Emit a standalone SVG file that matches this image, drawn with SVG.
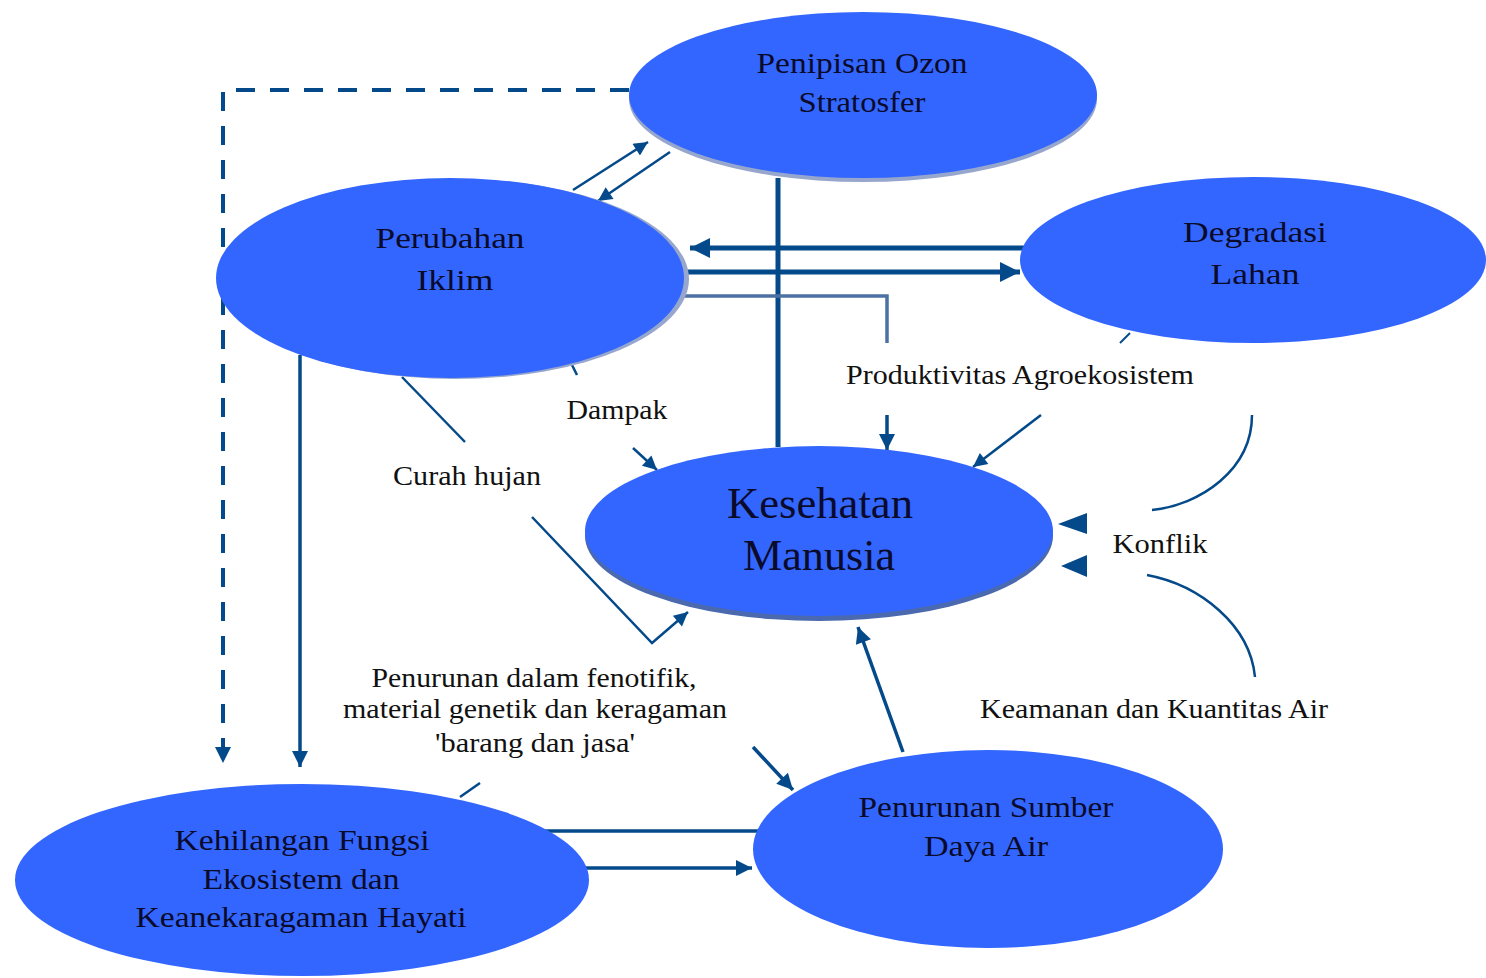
<svg xmlns="http://www.w3.org/2000/svg" width="1486" height="978" viewBox="0 0 1486 978">
<style>
.node{fill:#3366FF}
.sh-light{fill:#97A6CC}
.sh-dark{fill:#4A69AE}
.nt{font-family:"Liberation Serif","Times New Roman",serif;font-size:30px;fill:#0A0A2A;text-anchor:middle}
.big{font-size:44px}
.lbl{font-family:"Liberation Serif","Times New Roman",serif;font-size:27px;fill:#111;text-anchor:middle}
.c{fill:none;stroke:#044A8A;stroke-linecap:butt;stroke-linejoin:miter}
.thick{stroke-width:5}
.mid{stroke-width:3.5}
.thin{stroke-width:2.5}
.dash{stroke-width:4;stroke-dasharray:19 15}
.grey{fill:none;stroke:#4C71A2;stroke-width:3.5}
.head{fill:#044A8A}
</style>
<defs>
<marker id="ah" viewBox="0 0 10 10" refX="10" refY="5" markerUnits="userSpaceOnUse" markerWidth="20" markerHeight="16" orient="auto">
<polygon points="0,0 10,5 0,10" fill="#044A8A"/>
</marker>
<marker id="ahb" viewBox="0 0 10 10" refX="10" refY="5" markerUnits="userSpaceOnUse" markerWidth="24" markerHeight="20" orient="auto">
<polygon points="0,0 10,5 0,10" fill="#044A8A"/>
</marker>
<marker id="ahs" viewBox="0 0 10 10" refX="10" refY="5" markerUnits="userSpaceOnUse" markerWidth="18" markerHeight="14" orient="auto">
<polygon points="0,0 10,5 0,10" fill="#044A8A"/>
</marker>
</defs>
<rect width="1486" height="978" fill="#FFFFFF"/>
<g id="connectors">
<path class="c dash" d="M629,90 H223 V763" marker-end="url(#ah)"/>
<path class="c mid" d="M300,355 V767" marker-end="url(#ah)"/>
<path class="c thin" d="M573,190 L648,142" marker-end="url(#ahs)"/>
<path class="c thin" d="M670,152 L598,201" marker-end="url(#ahs)"/>
<path class="c thick" d="M778,178 V447"/>
<path class="c thick" d="M1035,248 H690" marker-end="url(#ahb)"/>
<path class="c thick" d="M680,272 H1020" marker-end="url(#ahb)"/>
<path class="grey" d="M685,296 H887 V343"/>
<path class="c mid" d="M887,415 V450" marker-end="url(#ah)"/>
<path class="c thin" d="M1041,415 L973,467" marker-end="url(#ahs)"/>
<path class="c" stroke-width="2" d="M1120,343 L1130,333"/>
<path class="c thin" d="M1252,415 C1252,470 1200,505 1152,510"/>
<path class="c thin" d="M1147,575 C1200,585 1250,625 1255,677"/>
<polygon class="head" points="1058,524 1087,513 1087,534"/>
<polygon class="head" points="1061,566 1087,555 1087,577"/>
<path class="c mid" d="M903,752 L858,627" marker-end="url(#ah)"/>
<path class="c mid" d="M753,747 L793,790" marker-end="url(#ah)"/>
<path class="c mid" d="M545,831 H760"/>
<path class="c mid" d="M585,868 H752" marker-end="url(#ah)"/>
<path class="c thin" d="M402,377 L465,442"/>
<path class="c thin" d="M532,517 L652,643 L688,612" marker-end="url(#ahs)"/>
<path class="c thin" d="M572,365 L577,375"/>
<path class="c thin" d="M633,448 L657,470" marker-end="url(#ahs)"/>
<path class="c thin" d="M480,783 L460,797"/>
</g>
<g id="node-ozon">
<ellipse class="sh-light" cx="863" cy="99" rx="234" ry="83"/>
<ellipse class="node" cx="863" cy="95" rx="234" ry="83"/>
<text class="nt" x="862" y="73" textLength="211" lengthAdjust="spacingAndGlyphs">Penipisan Ozon</text>
<text class="nt" x="862" y="112" textLength="127" lengthAdjust="spacingAndGlyphs">Stratosfer</text>
</g>
<g id="node-iklim">
<ellipse class="sh-light" cx="455" cy="279" rx="234" ry="100"/>
<ellipse class="node" cx="450" cy="278" rx="234" ry="100"/>
<text class="nt" x="450" y="248" textLength="149" lengthAdjust="spacingAndGlyphs">Perubahan</text>
<text class="nt" x="455" y="290" textLength="77" lengthAdjust="spacingAndGlyphs">Iklim</text>
</g>
<g id="node-lahan">
<ellipse class="node" cx="1253" cy="260" rx="233" ry="83"/>
<text class="nt" x="1255" y="242" textLength="144" lengthAdjust="spacingAndGlyphs">Degradasi</text>
<text class="nt" x="1255" y="284" textLength="89" lengthAdjust="spacingAndGlyphs">Lahan</text>
</g>
<g id="node-kesehatan">
<ellipse class="sh-dark" cx="819" cy="536" rx="234" ry="85"/>
<ellipse class="node" cx="819" cy="531" rx="234" ry="85"/>
<text class="nt big" x="820" y="518" textLength="186" lengthAdjust="spacingAndGlyphs">Kesehatan</text>
<text class="nt big" x="819" y="570" textLength="152" lengthAdjust="spacingAndGlyphs">Manusia</text>
</g>
<g id="node-kehilangan">
<ellipse class="node" cx="302" cy="880" rx="287" ry="96"/>
<text class="nt" x="302" y="850" textLength="255" lengthAdjust="spacingAndGlyphs">Kehilangan Fungsi</text>
<text class="nt" x="301" y="889" textLength="197" lengthAdjust="spacingAndGlyphs">Ekosistem dan</text>
<text class="nt" x="301" y="927" textLength="331" lengthAdjust="spacingAndGlyphs">Keanekaragaman Hayati</text>
</g>
<g id="node-air">
<ellipse class="node" cx="988" cy="849" rx="235" ry="99"/>
<text class="nt" x="986" y="817" textLength="255" lengthAdjust="spacingAndGlyphs">Penurunan Sumber</text>
<text class="nt" x="986" y="856" textLength="124" lengthAdjust="spacingAndGlyphs">Daya Air</text>
</g>
<g id="labels">
<text class="lbl" x="617" y="419" textLength="101" lengthAdjust="spacingAndGlyphs">Dampak</text>
<text class="lbl" x="467" y="485" textLength="148" lengthAdjust="spacingAndGlyphs">Curah hujan</text>
<text class="lbl" x="1020" y="384" textLength="348" lengthAdjust="spacingAndGlyphs">Produktivitas Agroekosistem</text>
<text class="lbl" x="1160" y="553" textLength="95" lengthAdjust="spacingAndGlyphs">Konflik</text>
<text class="lbl" x="1154" y="718" textLength="348" lengthAdjust="spacingAndGlyphs">Keamanan dan Kuantitas Air</text>
<text class="lbl" x="534" y="687" textLength="325" lengthAdjust="spacingAndGlyphs">Penurunan dalam fenotifik,</text>
<text class="lbl" x="535" y="718" textLength="384" lengthAdjust="spacingAndGlyphs">material genetik dan keragaman</text>
<text class="lbl" x="535" y="752" textLength="200" lengthAdjust="spacingAndGlyphs">'barang dan jasa'</text>
</g>
</svg>
